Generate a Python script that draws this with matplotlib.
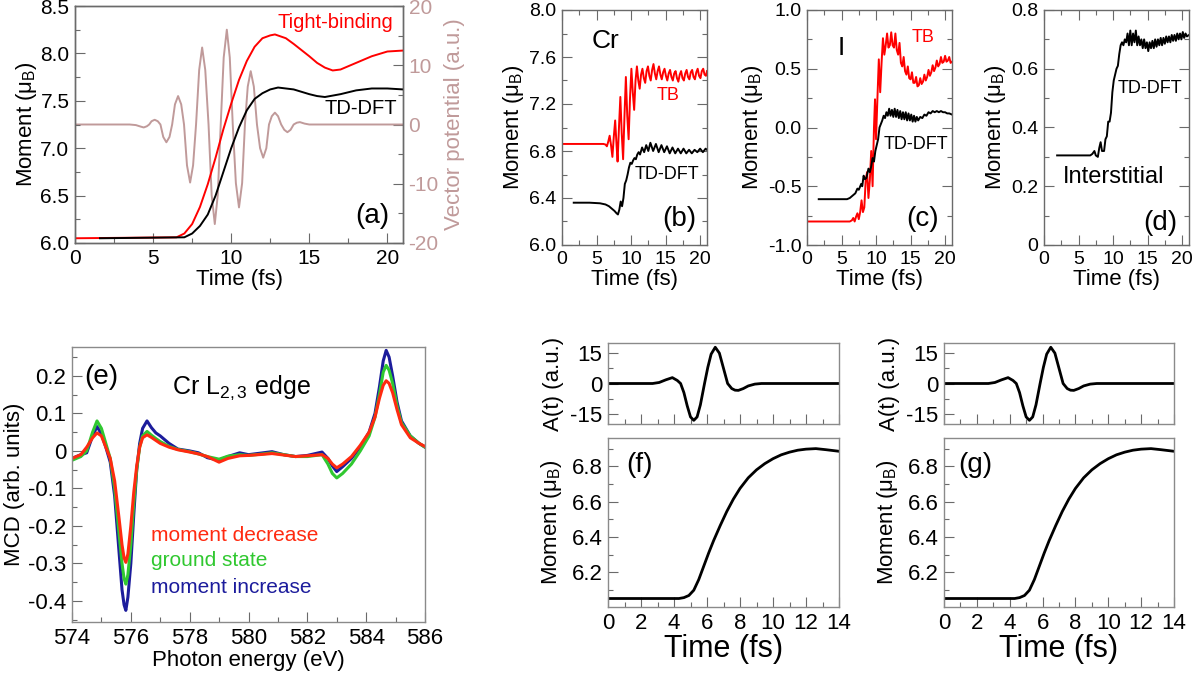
import numpy as np
import matplotlib
matplotlib.use("Agg")
import matplotlib.pyplot as plt
from matplotlib.ticker import MultipleLocator

plt.rcParams['font.family'] = ['Liberation Sans', 'DejaVu Sans']
plt.rcParams['mathtext.fontset'] = 'custom'
plt.rcParams['mathtext.rm'] = 'Liberation Sans'
plt.rcParams['mathtext.it'] = 'Liberation Sans:italic'
plt.rcParams['axes.unicode_minus'] = False

# ---------------- data ----------------
# (a) total moment
a_tb_t = [0, 6.5, 7.0, 7.5, 8.0, 8.5, 9.0, 9.5, 10.0, 10.5, 11.0, 11.5, 12.0, 12.5, 12.8,
          13.5, 14.0, 15.0, 15.5, 16.0, 16.5, 17.0, 18.0, 19.0, 20.0, 21.0]
a_tb_m = [6.05, 6.06, 6.1, 6.2, 6.38, 6.62, 6.9, 7.2, 7.47, 7.72, 7.92, 8.07, 8.16, 8.19, 8.2,
          8.16, 8.1, 7.97, 7.9, 7.85, 7.82, 7.83, 7.9, 7.97, 8.02, 8.03]
a_dft_t = [1.6, 7.0, 7.5, 8.0, 8.5, 9.0, 9.5, 10.0, 10.5, 11.0, 11.5, 12.0, 12.5, 13.0,
           14.0, 15.0, 15.5, 16.0, 17.0, 18.0, 19.0, 20.0, 21.0]
a_dft_m = [6.05, 6.06, 6.1, 6.18, 6.3, 6.5, 6.75, 7.0, 7.22, 7.4, 7.52, 7.58, 7.62, 7.64,
           7.62, 7.57, 7.55, 7.54, 7.57, 7.61, 7.63, 7.63, 7.62]
a_vp_t = [0, 3.5, 3.9, 4.2, 4.4, 4.6, 4.75, 4.9, 5.1, 5.3, 5.47, 5.65, 5.85, 6.05, 6.22,
          6.4, 6.6, 6.8, 6.98, 7.17, 7.37, 7.56, 7.75, 7.95, 8.14, 8.34, 8.55, 8.75, 8.95,
          9.14, 9.33, 9.52, 9.72, 9.91, 10.1, 10.3, 10.5, 10.7, 10.88, 11.06, 11.25, 11.45,
          11.65, 11.85, 12.05, 12.25, 12.42, 12.6, 12.8, 13.0, 13.2, 13.4, 13.6, 13.8, 14.0,
          14.2, 14.4, 14.7, 15.0, 21.0]
a_vp_v = [0, 0, -0.1, -0.35, -0.5, -0.3, 0, 0.55, 0.8, 0.55, 0, -2.1, -3.0, -2.1, 0,
          3.4, 4.8, 3.4, 0, -6.9, -9.8, -6.9, 0, 9.2, 13.0, 9.2, 0, -11.9, -16.8,
          -11.9, 0, 11.3, 16.0, 11.3, 0, -9.9, -14.0, -9.9, 0, 6.4, 9.0, 6.4,
          0, -4.0, -5.6, -4.0, 0, 1.4, 2.0, 1.4, 0, -0.9, -1.3, -0.9, 0,
          0.3, 0.4, 0.15, 0, 0]

# (b) Cr
b_tb_t = [0.0, 6.0, 6.3, 6.5, 6.7, 6.9, 7.1, 7.3, 7.5, 7.7, 7.9, 8.05, 8.25, 8.45, 8.65, 8.85,
          9.05, 9.25, 9.45, 9.65, 9.85, 10.05, 10.25, 10.45, 10.65, 10.85, 11.05, 11.25,
          11.45, 11.65, 11.85, 12.05, 12.25, 12.45, 12.65, 12.85, 13.05, 13.25, 13.45,
          13.65, 13.85, 14.05, 14.25, 14.45, 14.65, 14.85, 15.05, 15.25, 15.45, 15.65,
          15.85, 16.05, 16.25, 16.45, 16.65, 16.85, 17.05, 17.25, 17.45, 17.65, 17.85,
          18.05, 18.25, 18.45, 18.65, 18.85, 19.05, 19.25, 19.45, 19.65, 19.85, 20.05,
          20.25, 20.45, 20.65, 20.85, 21.0]
b_tb_m = [6.86, 6.86, 6.855, 6.84, 6.88, 6.93, 6.85, 6.75, 6.92, 7.06, 6.85, 6.71, 7.0, 7.26,
          6.95, 6.73, 7.1, 7.43, 7.1, 6.9, 7.25, 7.5, 7.3, 7.15, 7.4, 7.52, 7.4, 7.33,
          7.45, 7.5, 7.42, 7.38, 7.48, 7.52, 7.44, 7.4, 7.49, 7.54, 7.46, 7.41, 7.48,
          7.52, 7.45, 7.41, 7.47, 7.5, 7.44, 7.4, 7.46, 7.49, 7.43, 7.40, 7.46, 7.48,
          7.42, 7.39, 7.45, 7.48, 7.42, 7.40, 7.46, 7.49, 7.43, 7.41, 7.47, 7.49, 7.43,
          7.41, 7.47, 7.50, 7.44, 7.42, 7.48, 7.50, 7.45, 7.44, 7.48]
b_dft_t = [1.7, 4.0, 5.5, 6.3, 6.8, 7.2, 7.6, 7.9, 8.1, 8.3, 8.5, 8.7, 8.9, 9.1, 9.3, 9.5,
           9.7, 9.9, 10.1, 10.3, 10.5, 10.7, 10.9, 11.1, 11.3, 11.6, 11.9, 12.2, 12.5,
           12.8, 13.2, 13.6, 14.0, 14.4, 14.8, 15.2, 15.6, 16.0, 16.4, 16.8, 17.2, 17.6,
           18.0, 18.4, 18.8, 19.2, 19.6, 20.0, 20.4, 20.8, 21.0]
b_dft_m = [6.36, 6.36, 6.355, 6.345, 6.33, 6.31, 6.29, 6.27, 6.26, 6.3, 6.37, 6.33, 6.4,
           6.52, 6.55, 6.6, 6.66, 6.7, 6.69, 6.72, 6.74, 6.73, 6.77, 6.79, 6.77, 6.83,
           6.79, 6.85, 6.8, 6.87, 6.8, 6.86, 6.79, 6.85, 6.79, 6.84, 6.78, 6.83, 6.78,
           6.82, 6.78, 6.82, 6.78, 6.81, 6.78, 6.81, 6.79, 6.82, 6.79, 6.82, 6.81]

# (c) I
c_tb_t = [0, 6.2, 6.5, 6.7, 6.9, 7.1, 7.3, 7.5, 7.7, 7.9, 8.1, 8.3, 8.5, 8.7, 8.9, 9.1, 9.3,
          9.5, 9.7, 9.85, 10.0, 10.2, 10.4, 10.6, 10.8, 11.0, 11.2, 11.4, 11.6, 11.8, 12.0,
          12.2, 12.4, 12.6, 12.8, 13.0, 13.2, 13.4, 13.6, 13.8, 14.0, 14.2, 14.4, 14.6,
          14.8, 15.0, 15.2, 15.4, 15.6, 15.8, 16.0, 16.2, 16.4, 16.6, 16.8, 17.0, 17.2,
          17.4, 17.6, 17.8, 18.0, 18.2, 18.4, 18.6, 18.8, 19.0, 19.2, 19.4, 19.6, 19.8,
          20.0, 20.2, 20.4, 20.6, 20.8, 21.0]
c_tb_m = [-0.80, -0.80, -0.79, -0.77, -0.80, -0.76, -0.73, -0.78, -0.72, -0.62, -0.72, -0.68,
          -0.45, -0.38, -0.6, -0.45, -0.2, -0.5, 0.0, 0.24, -0.1, 0.25, 0.58, 0.3, 0.55,
          0.76, 0.62, 0.7, 0.8, 0.68, 0.7, 0.81, 0.7, 0.68, 0.8, 0.66, 0.62, 0.72, 0.55,
          0.52, 0.6, 0.48, 0.45, 0.52, 0.42, 0.41, 0.47, 0.38, 0.38, 0.43, 0.35, 0.36,
          0.42, 0.37, 0.39, 0.45, 0.4, 0.43, 0.49, 0.44, 0.47, 0.53, 0.48, 0.51, 0.57,
          0.52, 0.54, 0.6, 0.55, 0.56, 0.61, 0.56, 0.57, 0.6, 0.55, 0.56]
c_dft_t = [1.7, 5.8, 6.2, 6.6, 7.0, 7.3, 7.5, 7.85, 8.0, 8.2, 8.4, 8.6, 8.9, 9.1, 9.3, 9.5,
           9.7, 9.9, 10.1, 10.3, 10.5, 10.7, 10.9, 11.1, 11.3, 11.5, 11.7, 11.9, 12.1,
           12.3, 12.5, 12.7, 12.9, 13.1, 13.3, 13.5, 13.7, 13.9, 14.1, 14.3, 14.5, 14.7,
           14.9, 15.1, 15.3, 15.5, 15.7, 15.9, 16.1, 16.4, 16.7, 17.0, 17.3, 17.6, 17.9,
           18.2, 18.5, 18.8, 19.1, 19.4, 19.7, 20.0, 20.3, 20.6, 21.0]
c_dft_m = [-0.61, -0.61, -0.6, -0.58, -0.56, -0.52, -0.53, -0.48, -0.5, -0.41, -0.44, -0.43,
           -0.35, -0.38, -0.33, -0.26, -0.29, -0.2, -0.15, -0.1, 0.0, 0.03, 0.06, 0.1,
           0.08, 0.13, 0.1, 0.16, 0.1, 0.15, 0.09, 0.16, 0.09, 0.15, 0.08, 0.14, 0.07,
           0.13, 0.07, 0.13, 0.06, 0.12, 0.06, 0.11, 0.05, 0.1, 0.05, 0.09, 0.06, 0.09,
           0.08, 0.11, 0.1, 0.13, 0.12, 0.14, 0.13, 0.14, 0.13, 0.14, 0.13, 0.13, 0.12,
           0.12, 0.11]

# (d) interstitial
d_dft_t = [1.9, 6.7, 7.0, 7.3, 7.5, 7.8, 8.0, 8.2, 8.4, 8.7, 8.9, 9.1, 9.3, 9.5, 9.7, 9.9,
           10.1, 10.3, 10.5, 10.7, 10.9, 11.1, 11.3, 11.5, 11.7, 11.9, 12.1, 12.3, 12.5,
           12.7, 12.9, 13.1, 13.3, 13.5, 13.7, 13.9, 14.1, 14.3, 14.5, 14.7, 14.9, 15.1,
           15.3, 15.5, 15.7, 15.9, 16.1, 16.3, 16.5, 16.7, 16.9, 17.1, 17.3, 17.5, 17.7,
           17.9, 18.1, 18.3, 18.5, 18.7, 18.9, 19.1, 19.3, 19.5, 19.7, 19.9, 20.1, 20.3,
           20.5, 20.7, 21.0]
d_dft_m = [0.305, 0.305, 0.31, 0.32, 0.305, 0.3, 0.33, 0.35, 0.32, 0.32, 0.36, 0.37, 0.42,
           0.42, 0.45, 0.52, 0.56, 0.58, 0.6, 0.61, 0.65, 0.68, 0.69, 0.68, 0.7, 0.69,
           0.72, 0.68, 0.73, 0.68, 0.72, 0.69, 0.73, 0.68, 0.71, 0.68, 0.7, 0.67, 0.7,
           0.67, 0.69, 0.66, 0.69, 0.67, 0.695, 0.67, 0.7, 0.675, 0.7, 0.68, 0.705, 0.68,
           0.705, 0.685, 0.71, 0.69, 0.71, 0.69, 0.715, 0.695, 0.715, 0.695, 0.72, 0.70,
           0.72, 0.70, 0.725, 0.705, 0.72, 0.71, 0.715]

# (e) MCD spectra
e_energy = [574.0, 574.3, 574.5, 574.7, 574.85, 575.0, 575.15, 575.3, 575.45, 575.6, 575.7,
            575.77, 575.83, 575.9, 576.0, 576.1, 576.2, 576.3, 576.4, 576.55, 576.7, 576.85,
            577.0, 577.3, 577.6, 578.0, 578.3, 578.6, 579.0, 579.3, 579.7, 580.0, 580.5,
            580.8, 581.2, 581.6, 582.0, 582.5, 582.7, 582.85, 583.0, 583.2, 583.5, 583.8,
            584.1, 584.3, 584.45, 584.58, 584.68, 584.78, 584.9, 585.05, 585.2, 585.5,
            585.8, 586.0]
e_increase = [-0.02, -0.01, -0.005, 0.04, 0.065, 0.045, 0.01, -0.03, -0.12, -0.27, -0.37,
              -0.41, -0.425, -0.39, -0.3, -0.17, -0.05, 0.02, 0.06, 0.08, 0.062, 0.048,
              0.04, 0.02, 0.005, 0.0, -0.005, -0.018, -0.025, -0.015, -0.005, -0.01, -0.005,
              -0.002, -0.01, -0.015, -0.012, -0.003, -0.02, -0.04, -0.055, -0.042, -0.02,
              0.01, 0.05, 0.1, 0.17, 0.24, 0.268, 0.25, 0.2, 0.13, 0.08, 0.04, 0.02, 0.01]
e_ground = [-0.025, -0.015, 0.0, 0.05, 0.08, 0.06, 0.02, -0.02, -0.1, -0.22, -0.3,
            -0.34, -0.355, -0.33, -0.25, -0.14, -0.05, 0.01, 0.04, 0.052, 0.042, 0.033,
            0.025, 0.012, 0.004, -0.002, -0.008, -0.015, -0.022, -0.014, -0.01, -0.012,
            -0.008, -0.005, -0.01, -0.015, -0.015, -0.01, -0.035, -0.06, -0.072, -0.06,
            -0.035, 0.0, 0.04, 0.09, 0.15, 0.21, 0.228, 0.215, 0.18, 0.12, 0.075, 0.04,
            0.02, 0.01]
e_decrease = [-0.02, -0.01, 0.01, 0.035, 0.048, 0.04, 0.01, -0.02, -0.08, -0.18, -0.25,
              -0.285, -0.297, -0.275, -0.2, -0.11, -0.04, 0.01, 0.035, 0.043, 0.036, 0.028,
              0.02, 0.01, 0.003, -0.003, -0.008, -0.015, -0.03, -0.02, -0.013, -0.012,
              -0.009, -0.007, -0.011, -0.015, -0.013, -0.01, -0.02, -0.035, -0.045,
              -0.035, -0.015, 0.015, 0.05, 0.09, 0.14, 0.175, 0.187, 0.18, 0.155, 0.11,
              0.07, 0.035, 0.02, 0.012]

# (f), (g) pulse and moment
fg_t = [0, 2.7, 3.1, 3.5, 3.9, 4.2, 4.4, 4.6, 4.8, 5.0, 5.2, 5.4, 5.6, 5.85, 6.05, 6.25,
        6.5, 6.75, 7.0, 7.25, 7.5, 7.7, 7.9, 8.2, 8.5, 8.9, 9.3, 14.0]
fg_A = [0, 0, 0.5, 1.8, 2.9, 1.5, 0, -4.5, -11.0, -16.5, -18.2, -16.5, -10.5, 0, 8.0,
        14.5, 17.9, 15.0, 7.5, 0, -2.5, -3.3, -3.4, -2.5, -1.2, -0.3, 0, 0]
fg_mt = [0, 4.3, 4.6, 4.9, 5.2, 5.5, 5.8, 6.1, 6.4, 6.8, 7.2, 7.6, 8.0, 8.5, 9.0, 9.5,
         10.0, 10.5, 11.0, 11.5, 12.0, 12.6, 13.2, 14.0]
fg_m = [6.053, 6.053, 6.058, 6.07, 6.1, 6.16, 6.235, 6.31, 6.38, 6.465, 6.545, 6.615, 6.675,
        6.735, 6.78, 6.815, 6.843, 6.865, 6.88, 6.891, 6.897, 6.9, 6.894, 6.885]

# ---------------- figure ----------------
W, H = 1200, 674
fig = plt.figure(figsize=(W / 100, H / 100), dpi=100)

def ax_px(x0, y0, x1, y1):
    return fig.add_axes([x0 / W, 1 - y1 / H, (x1 - x0) / W, (y1 - y0) / H])

SP = '#6a6a6a'

def style(ax, lsize=14, top=True, right=True):
    ax.tick_params(which='both', direction='in', top=top, right=right,
                   color=SP, labelsize=lsize, width=0.8, pad=4)
    ax.tick_params(which='major', length=7)
    ax.tick_params(which='minor', length=3.5)
    for s in ax.spines.values():
        s.set_color(SP)
        s.set_linewidth(1.0)

RED = '#ff0000'
VP = '#c09a9a'
LW = 1.4

# (a)
axa = ax_px(75, 6, 403, 243)
axa2 = axa.twinx()
axa.set_zorder(axa2.get_zorder() + 1)
axa.patch.set_visible(False)
axa2.plot(a_vp_t, a_vp_v, color=VP, lw=LW)
axa.plot(a_tb_t, a_tb_m, color=RED, lw=LW)
axa.plot(a_dft_t, a_dft_m, color='black', lw=LW)
axa.set_xlim(0, 21)
axa.set_ylim(6.0, 8.5)
axa2.set_ylim(-20, 20)
style(axa, 15, top=False, right=False)
style(axa2, 15, top=False, right=True)
axa2.tick_params(axis='y', labelcolor=VP)
axa.set_xticks([0, 5, 10, 15, 20])
axa.xaxis.set_minor_locator(MultipleLocator(2.5))
axa.set_yticks([6.0, 6.5, 7.0, 7.5, 8.0, 8.5])
axa.set_yticklabels(['6.0', '6.5', '7.0', '7.5', '8.0', '8.5'])
axa.yaxis.set_minor_locator(MultipleLocator(0.25))
axa2.set_yticks([-20, -10, 0, 10, 20])
axa2.yaxis.set_minor_locator(MultipleLocator(5))
axa.set_xlabel('Time (fs)', fontsize=16, labelpad=1)
axa.set_ylabel('Moment (μ$_\\mathregular{B}$)', fontsize=16, labelpad=1)
axa2.set_ylabel('Vector potential (a.u.)', fontsize=16, color=VP)
axa.text(0.793, 0.932, 'Tight-binding', color=RED, fontsize=14.5, ha='center', va='center',
         transform=axa.transAxes)
axa.text(0.872, 0.568, 'TD-DFT', color='black', fontsize=14.5, ha='center', va='center',
         transform=axa.transAxes)
axa.text(0.905, 0.114, '(a)', fontsize=20, ha='center', va='center', transform=axa.transAxes)

# (b), (c), (d)
def small_panel(x0, x1, ylim, yticks, ylabels, yminor):
    ax = ax_px(x0, 10, x1, 245)
    ax.set_xlim(0, 21)
    ax.set_ylim(*ylim)
    style(ax, 14)
    ax.set_xticks([0, 5, 10, 15, 20])
    ax.xaxis.set_minor_locator(MultipleLocator(2.5))
    ax.set_yticks(yticks)
    ax.set_yticklabels(ylabels)
    ax.yaxis.set_minor_locator(MultipleLocator(yminor))
    ax.set_xlabel('Time (fs)', fontsize=16, labelpad=1)
    ax.set_ylabel('Moment (μ$_\\mathregular{B}$)', fontsize=16, labelpad=2)
    return ax

axb = small_panel(562, 707, (6.0, 8.0), [6.0, 6.4, 6.8, 7.2, 7.6, 8.0],
                  ['6.0', '6.4', '6.8', '7.2', '7.6', '8.0'], 0.2)
axb.plot(b_tb_t, b_tb_m, color=RED, lw=LW)
axb.plot(b_dft_t, b_dft_m, color='black', lw=LW)
axb.text(0.303, 0.868, 'Cr', fontsize=19, ha='center', va='center', transform=axb.transAxes)
axb.text(0.731, 0.638, 'TB', fontsize=13, color=RED, ha='center', va='center',
         transform=axb.transAxes)
axb.text(0.724, 0.298, 'TD-DFT', fontsize=13, ha='center', va='center', transform=axb.transAxes)
axb.text(0.807, 0.111, '(b)', fontsize=20, ha='center', va='center', transform=axb.transAxes)

axc = small_panel(807, 952, (-1.0, 1.0), [-1.0, -0.5, 0.0, 0.5, 1.0],
                  ['-1.0', '-0.5', '0.0', '0.5', '1.0'], 0.25)
axc.plot(c_tb_t, c_tb_m, color=RED, lw=LW)
axc.plot(c_dft_t, c_dft_m, color='black', lw=LW)
axc.text(0.234, 0.838, 'I', fontsize=19, ha='center', va='center', transform=axc.transAxes)
axc.text(0.80, 0.881, 'TB', fontsize=13, color=RED, ha='center', va='center',
         transform=axc.transAxes)
axc.text(0.752, 0.426, 'TD-DFT', fontsize=13, ha='center', va='center', transform=axc.transAxes)
axc.text(0.80, 0.111, '(c)', fontsize=20, ha='center', va='center', transform=axc.transAxes)

axd = small_panel(1044, 1189, (0.0, 0.8), [0.0, 0.2, 0.4, 0.6, 0.8],
                  ['0', '0.2', '0.4', '0.6', '0.8'], 0.1)
axd.plot(d_dft_t, d_dft_m, color='black', lw=LW)
axd.text(0.731, 0.668, 'TD-DFT', fontsize=13, ha='center', va='center', transform=axd.transAxes)
axd.text(0.483, 0.289, 'Interstitial', fontsize=17, ha='center', va='center',
         transform=axd.transAxes)
axd.text(0.80, 0.094, '(d)', fontsize=20, ha='center', va='center', transform=axd.transAxes)

# (e)
axe = ax_px(72, 347, 425, 622)
E_BLUE, E_GREEN, E_RED = '#1c1c9c', '#30c830', '#ff2a10'
axe.plot(e_energy, e_increase, color=E_BLUE, lw=2.2)
axe.plot(e_energy, e_ground, color=E_GREEN, lw=2.2)
axe.plot(e_energy, e_decrease, color=E_RED, lw=2.2)
axe.set_xlim(574, 586)
axe.set_ylim(-0.456, 0.277)
style(axe, 16, top=False, right=False)
for s in axe.spines.values():
    s.set_color('#8a8a8a')
axe.set_xticks([574, 576, 578, 580, 582, 584, 586])
axe.xaxis.set_minor_locator(MultipleLocator(1))
axe.set_yticks([-0.4, -0.3, -0.2, -0.1, 0.0, 0.1, 0.2])
axe.set_yticklabels(['-0.4', '-0.3', '-0.2', '-0.1', '0', '0.1', '0.2'])
axe.yaxis.set_minor_locator(MultipleLocator(0.05))
axe.set_xlabel('Photon energy (eV)', fontsize=16, labelpad=1)
axe.set_ylabel('MCD (arb. units)', fontsize=16, labelpad=2)
axe.text(0.082, 0.891, '(e)', fontsize=20, ha='center', va='center', transform=axe.transAxes)
axe.text(0.283, 0.851, 'Cr L$_\\mathregular{2,3}$ edge', fontsize=18, ha='left', va='center',
         transform=axe.transAxes)
axe.text(0.224, 0.316, 'moment decrease', color=E_RED, fontsize=15, ha='left', va='center',
         transform=axe.transAxes)
axe.text(0.224, 0.222, 'ground state', color=E_GREEN, fontsize=15, ha='left', va='center',
         transform=axe.transAxes)
axe.text(0.224, 0.124, 'moment increase', color=E_BLUE, fontsize=15, ha='left', va='center',
         transform=axe.transAxes)

# (f), (g)
def pulse_pair(x0, x1, tag):
    top = ax_px(x0, 343, x1, 424)
    bot = ax_px(x0, 438, x1, 607)
    top.plot(fg_t, fg_A, color='black', lw=2.0)
    bot.plot(fg_mt, fg_m, color='black', lw=2.0)
    for ax in (top, bot):
        ax.set_xlim(0, 14)
        style(ax, 16, top=False, right=False)
        for s in ax.spines.values():
            s.set_color('#8a8a8a')
        ax.set_xticks(range(0, 15, 2))
        ax.xaxis.set_minor_locator(MultipleLocator(1))
    top.tick_params(axis='x', labelbottom=False)
    top.set_ylim(-20, 20)
    top.set_yticks([-15, 0, 15])
    top.yaxis.set_minor_locator(MultipleLocator(7.5))
    bot.set_ylim(6.005, 6.96)
    bot.set_yticks([6.2, 6.4, 6.6, 6.8])
    bot.set_yticklabels(['6.2', '6.4', '6.6', '6.8'])
    bot.yaxis.set_minor_locator(MultipleLocator(0.1))
    top.set_ylabel('A(t) (a.u.)', fontsize=16)
    bot.set_ylabel('Moment (μ$_\\mathregular{B}$)', fontsize=16)
    top.yaxis.set_label_coords(-0.19, 0.5)
    bot.yaxis.set_label_coords(-0.19, 0.5)
    bot.set_xlabel('Time (fs)', fontsize=22, labelpad=0)
    bot.text(0.135, 0.84, tag, fontsize=20, ha='center', va='center', transform=bot.transAxes)

pulse_pair(608, 839, '(f)')
pulse_pair(944, 1174, '(g)')

fig.savefig('out.png', dpi=100)
